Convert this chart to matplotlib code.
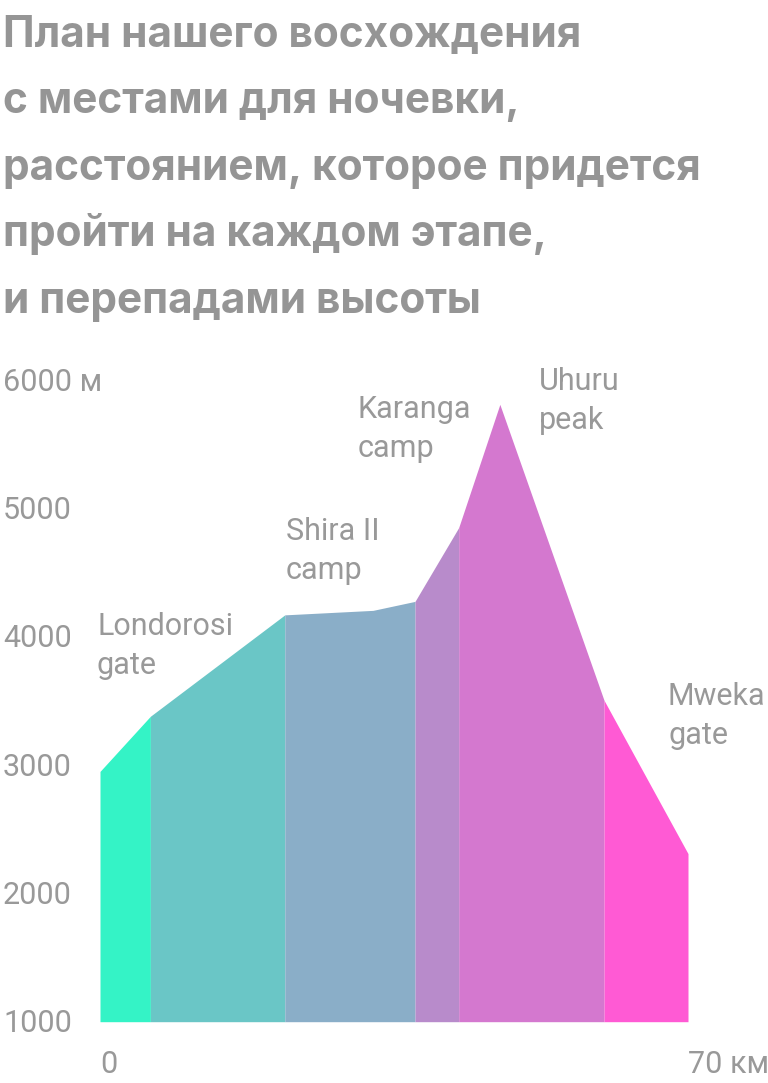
import matplotlib
matplotlib.use("Agg")
import matplotlib.pyplot as plt
from matplotlib import transforms

# route profile
km = [0, 6, 22, 32.5, 37.5, 42.7, 47.6, 60, 70]
elev = [2950, 3380, 4170, 4205, 4275, 4850, 5810, 3505, 2310]

# stages: (start index, end index) into km/elev
stages = [(0, 1), (1, 2), (2, 4), (4, 5), (5, 7), (7, 8)]
stage_colors = ["#34F3C6", "#6AC6C6", "#8AAEC8", "#B88BCB", "#D478CF", "#FF5AD4"]

camp_names = [["Londorosi", "gate"], ["Shira II", "camp"], ["Karanga", "camp"],
              ["Uhuru", "peak"], ["Mweka", "gate"]]

title_lines = ["План нашего восхождения",
               "с местами для ночевки,",
               "расстоянием, которое придется",
               "пройти на каждом этапе,",
               "и перепадами высоты"]

yticks = [1000, 2000, 3000, 4000, 5000, 6000]
ytick_labels = ["1000", "2000", "3000", "4000", "5000", "6000 м"]
xticks = [0, 70]
xtick_labels = ["0", "70 км"]

W, H = 768, 1083
GRAY = "#999999"
plt.rcParams['font.family'] = ['Roboto', 'DejaVu Sans']

fig = plt.figure(figsize=(W / 100, H / 100), dpi=100)

def fx(px):
    return px / W

def fy(py):
    return 1 - py / H

# plot area: 0..70 km -> 100..688 px, 1000..6000 m -> 1021.7..380 px
ax = fig.add_axes([fx(100), fy(1021.7), (688 - 100) / W, (1021.7 - 380) / H])
ax.set_xlim(0, 70)
ax.set_ylim(1000, 6000)
ax.axis('off')

for (i0, i1), c in zip(stages, stage_colors):
    ax.fill_between(km[i0:i1 + 1], elev[i0:i1 + 1], 1000, color=c, lw=0, zorder=2)

# y tick labels, left edge of the figure, centred on the value
ytrans = transforms.blended_transform_factory(fig.transFigure, ax.transData)
ytrans = ytrans + transforms.ScaledTranslation(0, -10.8 / 100, fig.dpi_scale_trans)
for v, lab in zip(yticks, ytick_labels):
    ax.text(fx(3), v, lab, transform=ytrans, fontsize=22, color=GRAY,
            ha='left', va='baseline', clip_on=False)

xtrans = transforms.blended_transform_factory(ax.transData, fig.transFigure)
for v, lab in zip(xticks, xtick_labels):
    ax.text(v, fy(1073), lab, transform=xtrans, fontsize=22, color=GRAY,
            ha='left', va='baseline', clip_on=False)

# camp labels (left x, first baseline) in pixels
label_pos = [(97, 635), (286, 540), (358, 418), (539, 390), (668, 705)]
for (px, py), lines in zip(label_pos, camp_names):
    for k, line in enumerate(lines):
        fig.text(fx(px), fy(py + 39 * k), line, fontsize=22, color=GRAY,
                 ha='left', va='baseline')

# title
for k, line in enumerate(title_lines):
    fig.text(fx(3), fy(46.7 + 66.6 * k), line, fontsize=30.5, fontweight='bold',
             family=['Inter', 'DejaVu Sans'], color="#959595",
             ha='left', va='baseline')

fig.savefig("out.png", dpi=100)
